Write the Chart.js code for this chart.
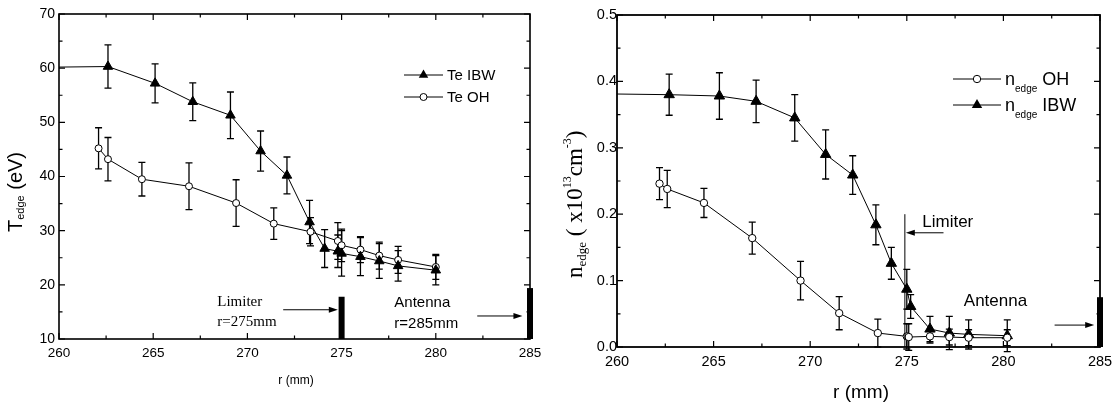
<!DOCTYPE html>
<html>
<head>
<meta charset="utf-8">
<script src="https://cdn.jsdelivr.net/npm/chart.js@4.4.1/dist/chart.umd.min.js"></script>
<style>
  html, body { margin: 0; padding: 0; background: #fff; }
  #wrap { position: relative; width: 1120px; height: 403px; }
  #left-chart { position: absolute; left: 0; top: 0; }
  #right-chart { position: absolute; left: 550px; top: 0; }
</style>
</head>
<body>
<div id="wrap">
  <canvas id="left-chart" width="550" height="403"></canvas>
  <canvas id="right-chart" width="570" height="403"></canvas>
</div>
<script>
// ---- Left panel: edge electron temperature ----
const teIbwR   = [260, 262.6, 265.1, 267.1, 269.1, 270.7, 272.1, 273.3, 274.1, 274.8, 275.0, 276.0, 277.0, 278.0, 280.0];
const teIbw    = [60.2, 60.3, 57.2, 53.8, 51.3, 44.7, 40.2, 31.6, 26.7, 26.2, 25.8, 25.2, 24.4, 23.5, 22.7];
const teIbwErr = [0, 4.0, 3.6, 3.5, 4.3, 3.7, 3.4, 4.0, 3.5, 3.0, 4.2, 3.5, 3.2, 2.8, 2.7];

const teOhR    = [262.1, 262.6, 264.4, 266.9, 269.4, 271.4, 273.35, 274.8, 275.0, 276.0, 277.0, 278.0, 280.0];
const teOh     = [45.2, 43.2, 39.5, 38.2, 35.1, 31.3, 29.8, 28.1, 27.3, 26.5, 25.4, 24.6, 23.3];
const teOhErr  = [3.8, 4.0, 3.1, 4.3, 4.3, 2.9, 2.6, 3.4, 3.0, 2.4, 2.5, 2.5, 2.3];

// ---- Right panel: edge density ----
const neOhR    = [262.2, 262.6, 264.5, 267.0, 269.5, 271.5, 273.5, 275.0, 275.1, 276.2, 277.2, 278.2, 280.2];
const neOh     = [0.246, 0.238, 0.217, 0.164, 0.100, 0.051, 0.021, 0.016, 0.015, 0.016, 0.015, 0.014, 0.014];
const neOhErr  = [0.024, 0.028, 0.022, 0.024, 0.029, 0.025, 0.021, 0.019, 0.020, 0.010, 0.012, 0.012, 0.012];

const neIbwR   = [260, 262.7, 265.3, 267.2, 269.2, 270.8, 272.2, 273.4, 274.2, 275.0, 275.2, 276.2, 277.2, 278.2, 280.2];
const neIbw    = [0.381, 0.380, 0.378, 0.370, 0.345, 0.290, 0.259, 0.184, 0.126, 0.087, 0.061, 0.027, 0.021, 0.019, 0.017];
const neIbwErr = [0, 0.031, 0.035, 0.032, 0.035, 0.037, 0.029, 0.030, 0.024, 0.030, 0.018, 0.019, 0.025, 0.022, 0.024];

// axis ranges
const rRange   = [260, 285];
const teRange  = [10, 70];
const neRange  = [0, 0.5];

const SANS  = 'Arial, "Liberation Sans", sans-serif';
const SERIF = '"Times New Roman", "Liberation Serif", serif';

/**
 * Zip x / y arrays into chart points
 */
function toPoints(xs, ys) {
    return xs.map((x, i) => ({ x: x, y: ys[i] }));
}

/**
 * Draw a sequence of text runs (for subscripts / superscripts)
 */
function drawRuns(ctx, runs, x, y) {
    let cx = x;
    runs.forEach(run => {
        ctx.font = run.font;
        ctx.fillText(run.t, cx, y + (run.dy || 0));
        cx += ctx.measureText(run.t).width;
    });
}

function drawMarker(ctx, style, x, y, r) {
    ctx.beginPath();
    if (style === 'triangle') {
        ctx.moveTo(x, y - r);
        ctx.lineTo(x + 0.866 * r, y + 0.5 * r);
        ctx.lineTo(x - 0.866 * r, y + 0.5 * r);
        ctx.closePath();
        ctx.fillStyle = '#000';
        ctx.fill();
    } else {
        ctx.arc(x, y, r, 0, Math.PI * 2);
        ctx.fillStyle = '#fff';
        ctx.fill();
        ctx.lineWidth = 1;
        ctx.strokeStyle = '#000';
        ctx.stroke();
    }
}

function drawArrow(ctx, x1, y, x2) {
    const dir = x2 > x1 ? 1 : -1;
    ctx.beginPath();
    ctx.moveTo(x1, y);
    ctx.lineTo(x2 - dir * 6, y);
    ctx.lineWidth = 1;
    ctx.strokeStyle = '#000';
    ctx.stroke();
    ctx.beginPath();
    ctx.moveTo(x2, y);
    ctx.lineTo(x2 - dir * 9, y - 3);
    ctx.lineTo(x2 - dir * 9, y + 3);
    ctx.closePath();
    ctx.fillStyle = '#000';
    ctx.fill();
}

/**
 * Error bars, drawn under the markers
 */
const errorBarPlugin = {
    id: 'errorBars',
    beforeDatasetsDraw(chart) {
        const { ctx } = chart;
        const xs = chart.scales.x, ys = chart.scales.y;
        ctx.save();
        ctx.strokeStyle = '#000';
        ctx.lineWidth = 1.3;
        chart.data.datasets.forEach(ds => {
            if (!ds.errors) return;
            ds.data.forEach((p, i) => {
                const e = ds.errors[i];
                if (!e) return;
                const px = xs.getPixelForValue(p.x);
                const top = ys.getPixelForValue(p.y + e);
                const bot = ys.getPixelForValue(p.y - e);
                ctx.beginPath();
                ctx.moveTo(px, top); ctx.lineTo(px, bot);
                ctx.moveTo(px - 3.5, top); ctx.lineTo(px + 3.5, top);
                ctx.moveTo(px - 3.5, bot); ctx.lineTo(px + 3.5, bot);
                ctx.stroke();
            });
        });
        ctx.restore();
    }
};

/**
 * Box frame with inward major/minor ticks on all four sides
 */
const framePlugin = {
    id: 'frame',
    afterDraw(chart, args, opts) {
        const { ctx, chartArea: a } = chart;
        const xs = chart.scales.x, ys = chart.scales.y;
        ctx.save();
        ctx.strokeStyle = '#000';
        ctx.lineWidth = opts.lineWidth;
        ctx.strokeRect(a.left, a.top, a.right - a.left, a.bottom - a.top);
        ctx.lineWidth = 1.2;
        ctx.beginPath();
        for (let v = xs.min; v <= xs.max + 1e-9; v += opts.xMinor) {
            const px = xs.getPixelForValue(v);
            const major = Math.abs(v / opts.xMajor - Math.round(v / opts.xMajor)) < 1e-6;
            const len = major ? 6 : 3.5;
            ctx.moveTo(px, a.bottom); ctx.lineTo(px, a.bottom - len);
            ctx.moveTo(px, a.top); ctx.lineTo(px, a.top + len);
        }
        for (let v = ys.min; v <= ys.max + 1e-9; v += opts.yMinor) {
            const py = ys.getPixelForValue(v);
            const major = Math.abs(v / opts.yMajor - Math.round(v / opts.yMajor)) < 1e-6;
            const len = major ? 6 : 3.5;
            ctx.moveTo(a.left, py); ctx.lineTo(a.left + len, py);
            ctx.moveTo(a.right, py); ctx.lineTo(a.right - len, py);
        }
        ctx.stroke();
        ctx.restore();
        if (opts.extra) opts.extra(chart);
    }
};

function baseOptions(yRange, yStep, fontSize, yPad, yWidth, xHeight, pad, yFmt) {
    return {
        responsive: false,
        animation: false,
        layout: { padding: pad },
        plugins: { legend: { display: false }, tooltip: { enabled: false } },
        scales: {
            x: {
                type: 'linear', min: rRange[0], max: rRange[1],
                grid: { display: false, drawTicks: false }, border: { display: false },
                ticks: { stepSize: 5, padding: 6, color: '#000', maxRotation: 0,
                         font: { family: SANS, size: fontSize } },
                afterFit: s => { s.height = xHeight; }
            },
            y: {
                type: 'linear', min: yRange[0], max: yRange[1],
                grid: { display: false, drawTicks: false }, border: { display: false },
                ticks: { stepSize: yStep, padding: yPad, color: '#000',
                         font: { family: SANS, size: fontSize },
                         callback: yFmt },
                afterFit: s => { s.width = yWidth; }
            }
        }
    };
}

function lineDataset(label, xs, ys, errs, style, radius) {
    return {
        label: label,
        data: toPoints(xs, ys),
        errors: errs,
        borderColor: '#000',
        borderWidth: 1,
        tension: 0,
        showLine: true,
        pointStyle: style,
        pointRadius: errs.map(e => e ? radius : 0),
        pointBorderWidth: 1,
        pointBorderColor: '#000',
        pointBackgroundColor: style === 'triangle' ? '#000' : '#fff'
    };
}

/**
 * Left panel: T_edge vs r
 */
function createLeftChart() {
    const opts = baseOptions(teRange, 10, 14, 4, 59, 64,
        { top: 14, right: 20, left: 0, bottom: 0 }, v => v);
    opts.scales.x.ticks.font.size = 13.5;
    opts.plugins.frame = {
        lineWidth: 1.6, xMajor: 5, xMinor: 2.5, yMajor: 10, yMinor: 5,
        extra: chart => {
            const { ctx } = chart;
            const xs = chart.scales.x, ys = chart.scales.y;
            ctx.save();
            ctx.fillStyle = '#000';
            // limiter / antenna bars
            const bar = (r, top) => {
                const px = xs.getPixelForValue(r);
                const y0 = ys.getPixelForValue(top);
                ctx.fillRect(px - 3, y0, 6, chart.chartArea.bottom - y0);
            };
            bar(275, 17.8);
            bar(285, 19.4);
            drawArrow(ctx, xs.getPixelForValue(271.9), ys.getPixelForValue(15.4), xs.getPixelForValue(274.8));
            drawArrow(ctx, xs.getPixelForValue(282.2), ys.getPixelForValue(14.25), xs.getPixelForValue(284.6));
            ctx.fillStyle = '#000';
            ctx.textAlign = 'left';
            ctx.textBaseline = 'alphabetic';
            ctx.font = '15px ' + SERIF;
            ctx.fillText('Limiter', xs.getPixelForValue(268.4), ys.getPixelForValue(16.1));
            ctx.fillText('r=275mm', xs.getPixelForValue(268.4), ys.getPixelForValue(12.4));
            ctx.font = '15px ' + SANS;
            ctx.fillText('Antenna', xs.getPixelForValue(277.8), ys.getPixelForValue(15.9));
            ctx.fillText('r=285mm', xs.getPixelForValue(277.8), ys.getPixelForValue(12.0));

            // legend
            const rows = [['triangle', 'Te IBW', 75, 5.5], ['circle', 'Te OH', 97, 3.5]];
            rows.forEach(([style, text, y, rad]) => {
                ctx.beginPath();
                ctx.moveTo(404, y); ctx.lineTo(443, y);
                ctx.lineWidth = 1; ctx.strokeStyle = '#000'; ctx.stroke();
                drawMarker(ctx, style, 423.5, y, rad);
                ctx.fillStyle = '#000';
                ctx.font = '15px ' + SANS;
                ctx.textBaseline = 'middle';
                ctx.fillText(text, 447, y + 1);
            });

            // axis titles
            ctx.textBaseline = 'alphabetic';
            ctx.font = '12px ' + SANS;
            ctx.textAlign = 'center';
            ctx.fillText('r (mm)', 296, 384);
            ctx.textAlign = 'left';
            ctx.translate(22, 232);
            ctx.rotate(-Math.PI / 2);
            drawRuns(ctx, [
                { t: 'T', font: '20px ' + SANS },
                { t: 'edge', font: '11px ' + SANS, dy: 2 },
                { t: ' (eV)', font: '20px ' + SANS }
            ], 0, 0);
            ctx.restore();
        }
    };

    return new Chart(document.getElementById('left-chart'), {
        type: 'scatter',
        data: {
            datasets: [
                lineDataset('Te IBW', teIbwR, teIbw, teIbwErr, 'triangle', 5.5),
                lineDataset('Te OH', teOhR, teOh, teOhErr, 'circle', 3.5)
            ]
        },
        options: opts,
        plugins: [errorBarPlugin, framePlugin]
    });
}

/**
 * Right panel: n_edge vs r
 */
function createRightChart() {
    const opts = baseOptions(neRange, 0.1, 14.5, 0, 67, 56,
        { top: 15, right: 20, left: 0, bottom: 0 }, v => v.toFixed(1));
    opts.plugins.frame = {
        lineWidth: 1.8, xMajor: 5, xMinor: 2.5, yMajor: 0.1, yMinor: 0.05,
        extra: chart => {
            const { ctx } = chart;
            const xs = chart.scales.x, ys = chart.scales.y;
            ctx.save();
            // limiter line
            const lx = xs.getPixelForValue(274.9);
            ctx.beginPath();
            ctx.moveTo(lx, ys.getPixelForValue(0.2));
            ctx.lineTo(lx, chart.chartArea.bottom);
            ctx.lineWidth = 1; ctx.strokeStyle = '#000'; ctx.stroke();
            drawArrow(ctx, xs.getPixelForValue(276.9), ys.getPixelForValue(0.172), xs.getPixelForValue(274.95));
            // antenna bar
            const ax = xs.getPixelForValue(285);
            const ay = ys.getPixelForValue(0.075);
            ctx.fillStyle = '#000';
            ctx.fillRect(ax - 3, ay, 6, chart.chartArea.bottom - ay);
            drawArrow(ctx, xs.getPixelForValue(282.65), ys.getPixelForValue(0.033), xs.getPixelForValue(284.7));

            ctx.fillStyle = '#000';
            ctx.textAlign = 'left';
            ctx.textBaseline = 'alphabetic';
            ctx.font = '17px ' + SANS;
            ctx.fillText('Limiter', xs.getPixelForValue(275.8), ys.getPixelForValue(0.181));
            ctx.fillText('Antenna', xs.getPixelForValue(277.95), ys.getPixelForValue(0.062));

            // legend
            const rows = [['circle', 'OH', 79, 3.7], ['triangle', 'IBW', 105, 6]];
            rows.forEach(([style, text, y, rad]) => {
                ctx.beginPath();
                ctx.moveTo(403, y); ctx.lineTo(451, y);
                ctx.lineWidth = 1; ctx.strokeStyle = '#000'; ctx.stroke();
                drawMarker(ctx, style, 427, y, rad);
                ctx.fillStyle = '#000';
                ctx.textBaseline = 'alphabetic';
                drawRuns(ctx, [
                    { t: 'n', font: '18px ' + SANS },
                    { t: 'edge', font: '10px ' + SANS, dy: 7 },
                    { t: ' ' + text, font: '18px ' + SANS }
                ], 455, y + 6);
            });

            // axis titles
            ctx.font = '19px ' + SANS;
            ctx.textAlign = 'center';
            ctx.fillText('r (mm)', 311, 398);
            ctx.textAlign = 'left';
            ctx.translate(32, 278);
            ctx.rotate(-Math.PI / 2);
            drawRuns(ctx, [
                { t: 'n', font: '23px ' + SERIF },
                { t: 'edge', font: '13px ' + SERIF, dy: 4 },
                { t: ' ( x10', font: '23px ' + SERIF },
                { t: '13', font: '12px ' + SERIF, dy: -11 },
                { t: 'cm', font: '23px ' + SERIF },
                { t: '-3', font: '12px ' + SERIF, dy: -11 },
                { t: ')', font: '23px ' + SERIF }
            ], 0, 0);
            ctx.restore();
        }
    };

    return new Chart(document.getElementById('right-chart'), {
        type: 'scatter',
        data: {
            datasets: [
                lineDataset('n_edge OH', neOhR, neOh, neOhErr, 'circle', 3.7),
                lineDataset('n_edge IBW', neIbwR, neIbw, neIbwErr, 'triangle', 6)
            ]
        },
        options: opts,
        plugins: [errorBarPlugin, framePlugin]
    });
}

createLeftChart();
createRightChart();
</script>
</body>
</html>
